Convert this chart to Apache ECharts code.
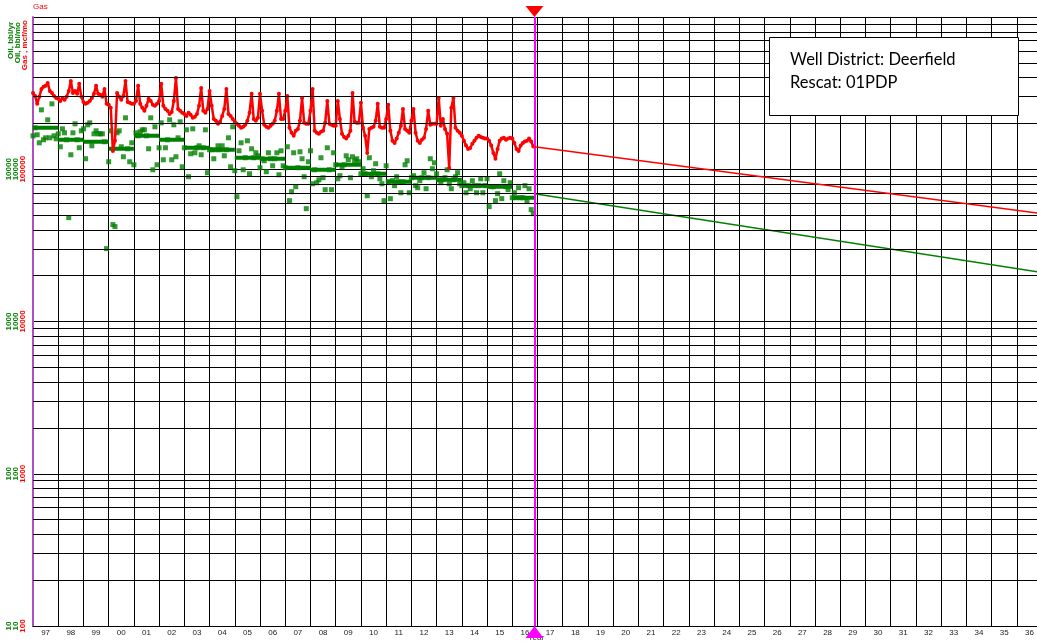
<!DOCTYPE html>
<html><head><meta charset="utf-8">
<script src="https://cdn.jsdelivr.net/npm/echarts@6/dist/echarts.min.js"></script>
<style>html,body{margin:0;padding:0;background:#fff;overflow:hidden}#c{width:1037px;height:641px}</style>
</head><body><div id="c"></div>
<script>
// ---- tick labels ----
const yearLabels = ['97','98','99','00','01','02','03','04','05','06','07','08','09','10','11','12','13','14','15','16',
  '17','18','19','20','21','22','23','24','25','26','27','28','29','30','31','32','33','34','35','36'];
const startYear = 1997, endYear = 2037;
const cutoff = 2016.88;          // end of history / start of forecast

// ---- gas, mcf/mo, monthly Jan 1997 .. Nov 2016 ----
const gasMonthly = [
 317000,303000,269000,299000,337000,348000,353000,369000,327000,317000,303000,294000,
 290000,281000,294000,286000,299000,327000,380000,317000,327000,313000,364000,299000,
 277000,269000,273000,281000,294000,313000,353000,313000,308000,299000,337000,269000,
 265000,253000,132000,154000,317000,299000,286000,303000,380000,277000,273000,269000,
 269000,281000,353000,269000,253000,242000,261000,290000,281000,265000,261000,269000,
 281000,364000,261000,249000,242000,231000,238000,281000,398000,249000,242000,235000,
 231000,224000,235000,228000,218000,221000,231000,261000,342000,242000,235000,249000,
 327000,261000,214000,208000,199000,205000,224000,249000,337000,231000,224000,214000,
 205000,199000,193000,187000,190000,196000,208000,235000,313000,214000,208000,218000,
 313000,242000,196000,190000,187000,193000,199000,208000,242000,313000,214000,214000,
 242000,303000,187000,174000,166000,179000,184000,208000,294000,202000,199000,199000,
 242000,337000,179000,174000,171000,176000,179000,202000,281000,199000,196000,193000,
 193000,281000,214000,171000,163000,159000,166000,179000,317000,205000,202000,202000,
 273000,187000,166000,128000,184000,187000,190000,208000,269000,190000,187000,187000,
 214000,265000,179000,154000,149000,159000,174000,193000,249000,184000,179000,174000,
 208000,249000,174000,154000,149000,156000,161000,184000,242000,196000,199000,199000,
 199000,294000,193000,214000,184000,171000,102000,253000,294000,187000,179000,174000,
 166000,154000,143000,136000,138000,147000,154000,161000,166000,163000,161000,159000,
 159000,154000,143000,128000,117000,136000,154000,159000,161000,156000,159000,161000,
 159000,149000,136000,132000,143000,149000,152000,154000,159000,152000,141000
];

// ---- oil, bbl/mo, monthly Jan 1997 .. Nov 2016 ----
const oilMonthly = [
 16580,18710,16840,14920,24560,15610,16090,21120,16090,26890,16580,15850,
 17090,14050,18430,17350,15610,4810,12450,17350,19880,15610,13840,17880,
 18430,11720,19580,20180,14260,17090,17880,17090,17090,17090,15150,3010,
 11200,17880,4330,4200,17350,17880,14050,12080,21770,13630,11200,14920,
 10700,17350,16580,17610,18160,18160,16580,13630,21770,9920,19000,10700,
 13840,20180,11540,13840,15610,21120,11540,19580,12080,16090,20490,10380,
 13840,18160,8930,12640,18430,12830,13840,14260,12450,13840,18160,9490,
 13430,13430,11720,13430,14260,13430,14260,12260,13430,16090,10380,19000,
 9780,6600,13220,14920,9920,11900,15380,9340,13630,11900,12830,12260,
 10230,11720,11370,9630,12830,11720,10540,11720,12830,9200,13220,10540,
 10230,14050,6220,7120,12830,7680,10230,13020,11720,8930,5510,11200,
 13220,8030,9920,8160,8530,11900,8800,7340,13840,9920,7340,12830,
 10700,8660,9070,10380,10700,12260,11540,8800,12080,11370,11720,11200,
 9340,10080,9340,6700,11900,8930,9780,10870,9340,8660,8030,6220,
 10540,8280,6410,8410,7800,8930,8280,7010,8280,10700,11370,7010,
 8800,9070,7800,7560,8410,8800,9490,7450,8800,11720,10080,11030,
 9340,8530,8160,8530,8800,9920,8030,7450,8530,8930,9490,8030,
 7800,8160,7010,7800,7450,8410,7800,7010,7800,8660,7010,7800,
 8660,5680,7680,7680,6220,6910,9340,6410,8410,7680,7340,8160,
 6500,7010,6500,7560,6500,6500,7800,6220,7450,5430,5110
];

// ---- oil, yearly level, 1997 .. 2016 ----
const oilYearly = [18700,15600,15140,13610,16590,15600,13830,13430,11890,11720,
  10230,9930,10710,9340,8270,8790,8530,7790,7670,6500];

// ---- forecasts (start at cutoff, end at 2037) ----
const gasForecast = [140600, 51100];
const oilForecast = [6910, 2100];

// ---- log grid multipliers ----
const minorMult = [2,3,4,5,6,7,8,9];
const gasDecades = [100,1000,10000,100000];

// ---------- build series data ----------
const gasData = gasMonthly.map((v,i)=>[startYear + i/12, v]);
const oilData = oilMonthly.map((v,i)=>[startYear + i/12, v]);
const oilStepData = [];
oilYearly.forEach((v,i)=>{
  const y0 = startYear + i;
  const y1 = Math.min(y0 + 1, cutoff);
  oilStepData.push([y0, v], [y1, v], [y1, '-']);
});
const minorLines = [];
gasDecades.forEach(d=>minorMult.forEach(m=>minorLines.push({yAxis: d*m})));

const RED = '#ff0000', GREEN = '#008000', MAG = '#ff00ff', PURP = '#b04cc4';
const FF = 'Liberation Sans, Arial, sans-serif';

const logAxis = (min, max, color, margin, showLine) => ({
  type: 'log', logBase: 10, min, max, gridIndex: 0,
  position: 'left', offset: 0,
  axisLine: {show: showLine, onZero: false, lineStyle: {color: PURP, width: 2}},
  axisTick: {show: false},
  splitLine: {show: showLine, lineStyle: {color: '#000', width: 1}},
  axisLabel: {
    show: true, rotate: 90, margin, color, fontSize: 8, fontFamily: FF, fontWeight: 'bold',
    showMaxLabel: false,
    formatter: v => (v >= max * 0.999 ? '' : String(Math.round(v)))
  }
});

const option = {
  animation: false,
  backgroundColor: '#fff',
  grid: {left: 33, right: -5, top: 17, bottom: 15, containLabel: false, outerBoundsMode: 'none'},
  xAxis: [
    {type: 'value', min: startYear, max: endYear, interval: 1,
     axisLine: {show: true, onZero: false, lineStyle: {color: '#000', width: 1}},
     axisTick: {show: false}, axisLabel: {show: false},
     splitLine: {show: true, lineStyle: {color: '#000', width: 1}}},
    {type: 'category', data: yearLabels, boundaryGap: true, position: 'bottom', gridIndex: 0,
     axisLine: {show: false}, axisTick: {show: false}, splitLine: {show: false},
     axisLabel: {show: true, interval: 0, margin: 3, fontSize: 8, color: '#222', fontFamily: FF}}
  ],
  yAxis: [
    logAxis(100, 1000000, RED, 6, true),
    logAxis(10, 100000, GREEN, 13, false),
    logAxis(10, 100000, GREEN, 20, false)
  ],
  graphic: [
    {type: 'text', left: 33, top: 3, style: {text: 'Gas', fill: RED, fontSize: 8, fontFamily: FF}},
    {type: 'text', x: 11, y: 22, rotation: Math.PI/2,
     style: {text: 'Oil, bbl/yr', fill: GREEN, fontSize: 8, fontWeight: 'bold', fontFamily: FF, align: 'right', verticalAlign: 'middle'}},
    {type: 'text', x: 18, y: 22, rotation: Math.PI/2,
     style: {text: 'Oil, bbl/mo', fill: GREEN, fontSize: 8, fontWeight: 'bold', fontFamily: FF, align: 'right', verticalAlign: 'middle'}},
    {type: 'text', x: 25, y: 20, rotation: Math.PI/2,
     style: {text: 'Gas , mcf/mo', fill: RED, fontSize: 8, fontWeight: 'bold', fontFamily: FF, align: 'right', verticalAlign: 'middle'}},
    {type: 'text', x: 536, y: 634, z: 0,
     style: {text: 'Year', fill: '#333', fontSize: 8, fontFamily: FF, align: 'center', verticalAlign: 'top'}},
    {type: 'rect', shape: {x: 769.5, y: 37.5, width: 249, height: 78}, z: 100,
     style: {fill: '#fff', stroke: '#000', lineWidth: 1}},
    {type: 'text', x: 790, y: 60, z: 101,
     style: {text: 'Well District: Deerfield', fill: '#000', fontSize: 16.5, fontFamily: 'Lato, sans-serif', verticalAlign: 'middle'}},
    {type: 'text', x: 790, y: 83, z: 101,
     style: {text: 'Rescat: 01PDP', fill: '#000', fontSize: 16.5, fontFamily: 'Lato, sans-serif', verticalAlign: 'middle'}}
  ],
  series: [
    {name: 'grid', type: 'line', xAxisIndex: 0, yAxisIndex: 0, z: 1, data: [],
     silent: true, symbol: 'none',
     markLine: {silent: true, symbol: 'none', label: {show: false}, animation: false,
       lineStyle: {color: '#000', width: 1, type: 'solid'}, data: minorLines}},
    {name: 'Oil yearly', type: 'line', xAxisIndex: 0, yAxisIndex: 1, z: 3, data: oilStepData,
     symbol: 'none', connectNulls: false, lineStyle: {color: GREEN, width: 4}, itemStyle: {color: GREEN}},
    {name: 'Oil monthly', type: 'scatter', xAxisIndex: 0, yAxisIndex: 1, z: 3, data: oilData,
     symbol: 'rect', symbolSize: 5, itemStyle: {color: GREEN}},
    {name: 'Gas', type: 'line', xAxisIndex: 0, yAxisIndex: 0, z: 4, data: gasData,
     symbol: 'circle', symbolSize: 4, showSymbol: true,
     lineStyle: {color: RED, width: 2.5}, itemStyle: {color: RED}},
    {name: 'Oil forecast', type: 'line', xAxisIndex: 0, yAxisIndex: 1, z: 4,
     data: [[cutoff, oilForecast[0]], [endYear, oilForecast[1]]],
     symbol: 'none', lineStyle: {color: GREEN, width: 1.5}},
    {name: 'Gas forecast', type: 'line', xAxisIndex: 0, yAxisIndex: 0, z: 5,
     data: [[cutoff, gasForecast[0]], [endYear, gasForecast[1]]],
     symbol: 'none', lineStyle: {color: RED, width: 1.5},
     markLine: {silent: true, symbol: 'none', label: {show: false}, animation: false,
       lineStyle: {color: MAG, width: 2, type: 'solid'}, data: [{xAxis: cutoff}]},
     markPoint: {silent: true, label: {show: false}, animation: false, data: [
       {coord: [cutoff, 1000000], symbol: 'triangle', symbolRotate: 180, symbolSize: [18, 11],
        symbolOffset: [0, -5.5], itemStyle: {color: RED}},
       {coord: [cutoff, 100], symbol: 'triangle', symbolSize: [18, 12],
        symbolOffset: [0, 6], itemStyle: {color: MAG}}
     ]}}
  ]
};
const chart = echarts.init(document.getElementById('c'));
chart.setOption(option);
</script></body></html>
